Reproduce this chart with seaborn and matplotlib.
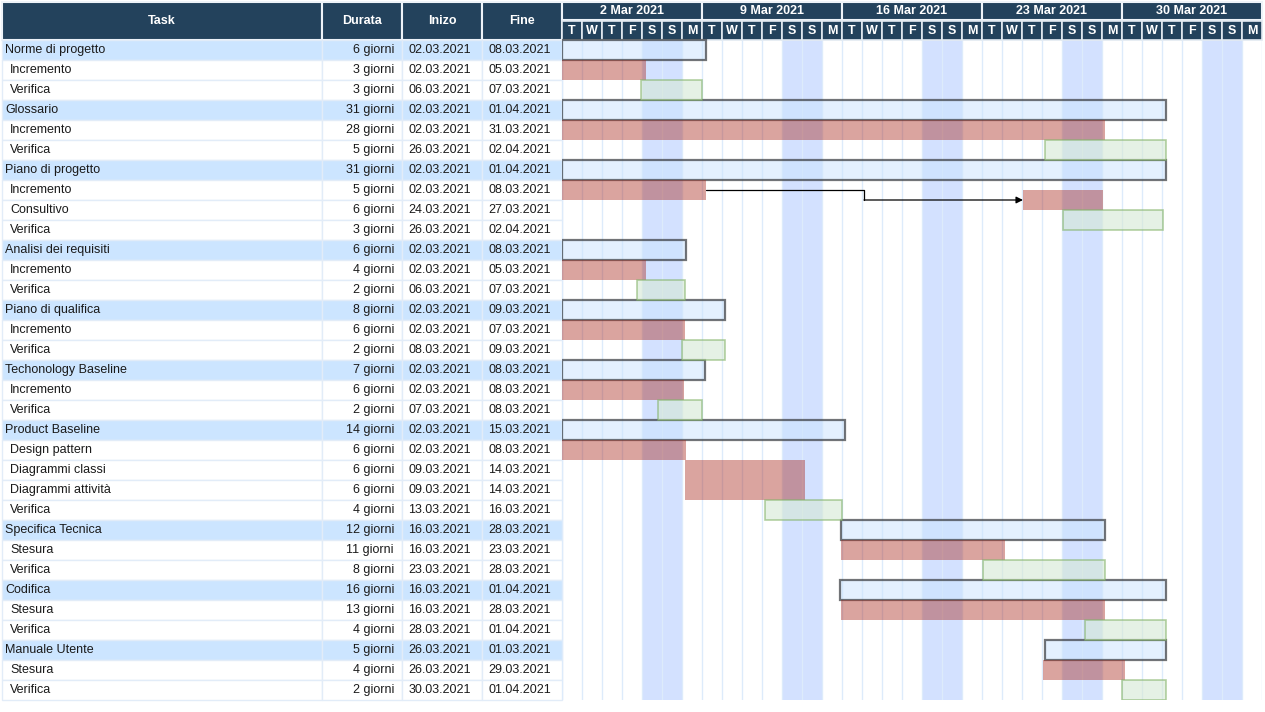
import numpy as np
import matplotlib
matplotlib.use("Agg")
import matplotlib.pyplot as plt
from matplotlib.patches import Rectangle
from matplotlib.colors import to_rgba
import seaborn as sns

# Dati del diagramma di Gantt
tasks = ["Norme di progetto", "Incremento", "Verifica",
         "Glossario", "Incremento", "Verifica",
         "Piano di progetto", "Incremento", "Consultivo", "Verifica",
         "Analisi dei requisiti", "Incremento", "Verifica",
         "Piano di qualifica", "Incremento", "Verifica",
         "Techonology Baseline", "Incremento", "Verifica",
         "Product Baseline", "Design pattern", "Diagrammi classi", "Diagrammi attività", "Verifica",
         "Specifica Tecnica", "Stesura", "Verifica",
         "Codifica", "Stesura", "Verifica",
         "Manuale Utente", "Stesura", "Verifica"]
# G = gruppo, W = lavoro, C = verifica
kinds = ["G", "W", "C", "G", "W", "C", "G", "W", "W", "C", "G", "W", "C",
         "G", "W", "C", "G", "W", "C", "G", "W", "W", "W", "C",
         "G", "W", "C", "G", "W", "C", "G", "W", "C"]
durata = [6, 3, 3, 31, 28, 5, 31, 5, 6, 3, 6, 4, 2, 8, 6, 2, 7, 6, 2,
          14, 6, 6, 6, 4, 12, 11, 8, 16, 13, 4, 5, 4, 2]
inizio = ["02.03.2021", "02.03.2021", "06.03.2021", "02.03.2021", "02.03.2021", "26.03.2021",
          "02.03.2021", "02.03.2021", "24.03.2021", "26.03.2021", "02.03.2021", "02.03.2021",
          "06.03.2021", "02.03.2021", "02.03.2021", "08.03.2021", "02.03.2021", "02.03.2021",
          "07.03.2021", "02.03.2021", "02.03.2021", "09.03.2021", "09.03.2021", "13.03.2021",
          "16.03.2021", "16.03.2021", "23.03.2021", "16.03.2021", "16.03.2021", "28.03.2021",
          "26.03.2021", "26.03.2021", "30.03.2021"]
fine = ["08.03.2021", "05.03.2021", "07.03.2021", "01.04.2021", "31.03.2021", "02.04.2021",
        "01.04.2021", "08.03.2021", "27.03.2021", "02.04.2021", "08.03.2021", "05.03.2021",
        "07.03.2021", "09.03.2021", "07.03.2021", "09.03.2021", "08.03.2021", "08.03.2021",
        "08.03.2021", "15.03.2021", "08.03.2021", "14.03.2021", "14.03.2021", "16.03.2021",
        "28.03.2021", "23.03.2021", "28.03.2021", "01.04.2021", "28.03.2021", "01.04.2021",
        "01.03.2021", "29.03.2021", "01.04.2021"]
# inizio / fine delle barre in giorni dal 2 marzo
bar_start = [0, 0, 3.95, 0, 0, 24.15, 0, 0, 23.05, 25.05, 0, 0, 3.75, 0, 0, 6.0, 0, 0, 4.8,
             0, 0, 6.15, 6.15, 10.15, 13.95, 13.95, 21.05, 13.9, 13.95, 26.15, 24.15, 24.05, 28.0]
bar_end = [7.2, 4.2, 7.0, 30.2, 27.15, 30.2, 30.2, 7.2, 27.05, 30.05, 6.2, 4.2, 6.15, 8.15, 6.15,
           8.15, 7.15, 6.1, 7.0, 14.15, 6.2, 12.15, 12.15, 14.0, 27.15, 22.15, 27.15, 30.2,
           27.15, 30.2, 30.2, 28.15, 30.2]
weeks = ["2 Mar 2021", "9 Mar 2021", "16 Mar 2021", "23 Mar 2021", "30 Mar 2021"]
day_letters = ["T", "W", "T", "F", "S", "S", "M"]
weekend_days = [4, 5]
headers = ["Task", "Durata", "Inizo", "Fine"]

NAVY = "#23425C"
GROUP_ROW = "#CCE5FF"
WEEKEND = "#D3E1FF"
GRID = "#DDEBFB"
TEXT = "#1a1a1a"

sns.set_theme(style="white")
plt.rcParams["font.family"] = ["Liberation Sans", "DejaVu Sans"]

W, H = 1265, 712
fig = plt.figure(figsize=(W / 100, H / 100), dpi=100)

n = len(tasks)
n_days = 7 * len(weeks)

ax_t = fig.add_axes([2 / W, 12 / H, 560 / W, 700 / H])
ax_g = fig.add_axes([562 / W, 12 / H, 700 / W, 700 / H])
for ax in (ax_t, ax_g):
    ax.set_ylim(n, -2)
    ax.axis("off")
ax_t.set_xlim(0, 560)
ax_g.set_xlim(0, n_days)

# --- tabella ---
col_edges = [0, 320, 400, 480, 560]
for j, h in enumerate(headers):
    x0, x1 = col_edges[j], col_edges[j + 1]
    ax_t.add_patch(Rectangle((x0, -1.9), x1 - x0, 1.9, facecolor=NAVY,
                             edgecolor="#EEF3F8", lw=1.5, clip_on=False))
    ax_t.text((x0 + x1) / 2, -0.95, h, color="white", fontsize=9, fontweight="bold",
              ha="center", va="center")

for i in range(n):
    group = kinds[i] == "G"
    fc = GROUP_ROW if group else "white"
    for j in range(4):
        x0, x1 = col_edges[j], col_edges[j + 1]
        ax_t.add_patch(Rectangle((x0, i), x1 - x0, 1, facecolor=fc,
                                 edgecolor="#E2ECF8", lw=1, clip_on=False))
    yc = i + 0.5
    ax_t.text(3 if group else 8, yc, tasks[i], fontsize=9, color=TEXT, va="center")
    ax_t.text(392, yc, f"{durata[i]} giorni", fontsize=9, color=TEXT, va="center", ha="right")
    ax_t.text(469, yc, inizio[i], fontsize=9, color=TEXT, va="center", ha="right")
    ax_t.text(549, yc, fine[i], fontsize=9, color=TEXT, va="center", ha="right")

# --- intestazione calendario ---
for w, label in enumerate(weeks):
    ax_g.add_patch(Rectangle((7 * w, -1.9), 7, 0.9, facecolor=NAVY,
                             edgecolor="#EEF3F8", lw=1.5, clip_on=False))
    ax_g.text(7 * w + 3.5, -1.45, label, color="white", fontsize=9,
              fontweight="bold", ha="center", va="center")
    for d, letter in enumerate(day_letters):
        ax_g.add_patch(Rectangle((7 * w + d, -0.95), 1, 0.95, facecolor=NAVY,
                                 edgecolor="#E3EAF1", lw=1.2, clip_on=False))
        ax_g.text(7 * w + d + 0.5, -0.46, letter, color="white", fontsize=9,
                  fontweight="bold", ha="center", va="center")

# weekend e griglia
for w in range(len(weeks)):
    for d in weekend_days:
        ax_g.add_patch(Rectangle((7 * w + d, 0), 1, n, facecolor=WEEKEND, lw=0, zorder=0))
ax_g.vlines(np.arange(n_days + 1), 0, n, color=GRID, lw=1, zorder=1)

# --- barre ---
bar_y = np.arange(n, dtype=float) + 0.5
bar_y[[8, 9]] -= 0.5
starts = np.array(bar_start)
widths = np.array(bar_end) - starts
styles = {
    "G": dict(facecolor=to_rgba("#CCE5FF", 0.55), edgecolor=to_rgba("#36393D", 0.7), linewidth=1.6),
    "W": dict(facecolor=to_rgba("#A8261C", 0.42), edgecolor="none", linewidth=0),
    "C": dict(facecolor=to_rgba("#D5E8D4", 0.6), edgecolor=to_rgba("#82B366", 0.6), linewidth=1.2),
}
for k, st in styles.items():
    idx = [i for i in range(n) if kinds[i] == k]
    ax_g.barh(bar_y[idx], widths[idx], left=starts[idx], height=0.96, zorder=2, **st)

# dipendenza Incremento -> Consultivo
elbow = 15.1
ax_g.plot([bar_end[7], elbow, elbow], [bar_y[7], bar_y[7], bar_y[8]], color="black", lw=0.9, zorder=3)
ax_g.annotate("", xy=(bar_start[8], bar_y[8]), xytext=(elbow, bar_y[8]),
              arrowprops=dict(arrowstyle="-|>", color="black", lw=0.9,
                              mutation_scale=10, shrinkA=0, shrinkB=0), zorder=3)

fig.savefig("out.png", dpi=100)
